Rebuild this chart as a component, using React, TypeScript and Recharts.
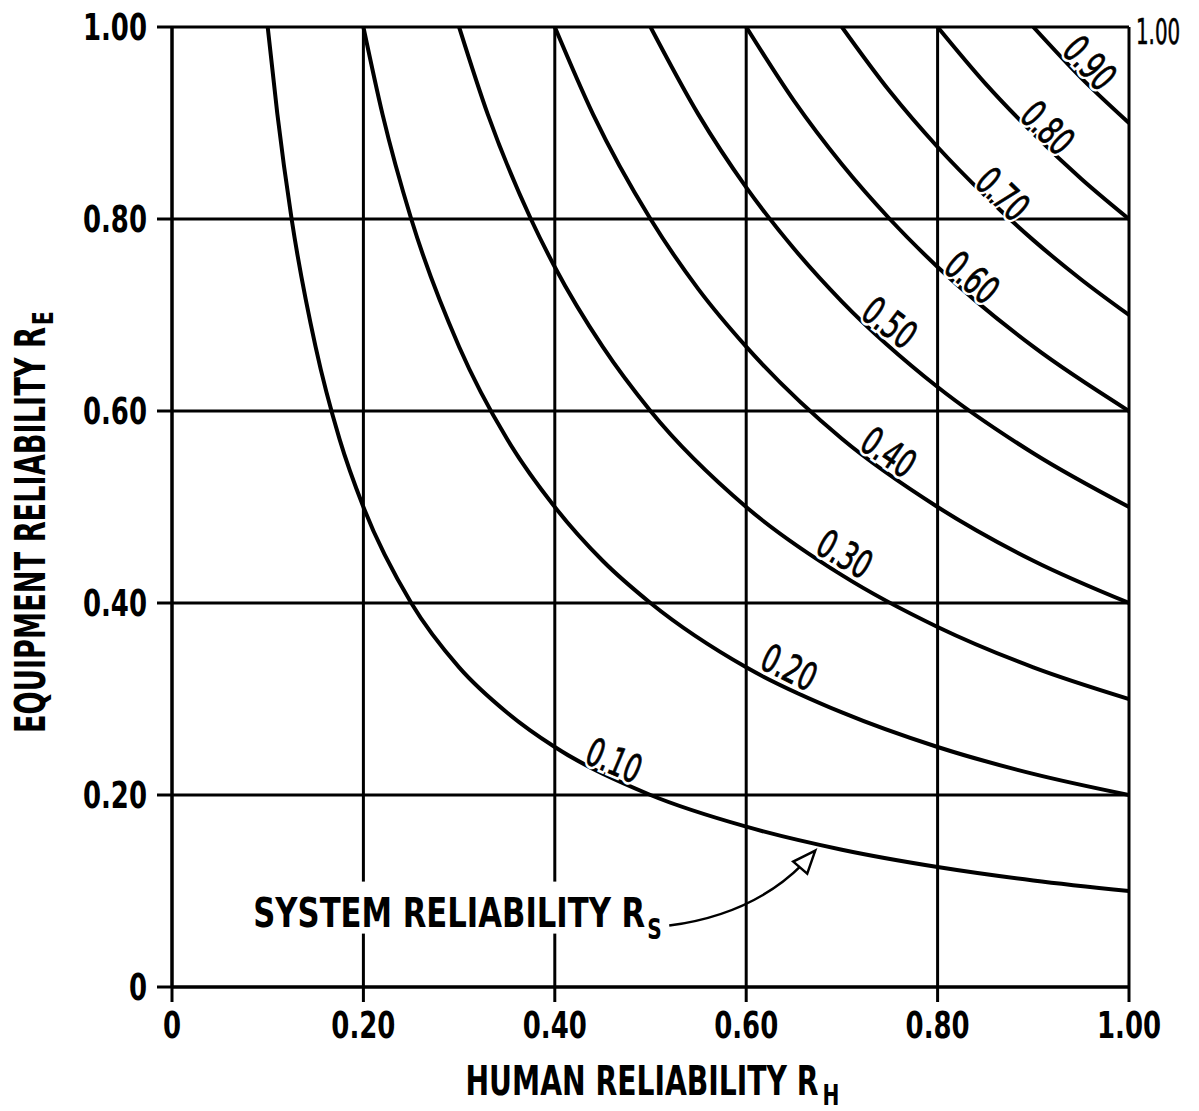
import React from 'react';
import {
  LineChart,
  Line,
  XAxis,
  YAxis,
  CartesianGrid,
  ReferenceDot,
} from 'recharts';

/* ------------------------- data -------------------- */
// each curve: [human reliability RH, equipment reliability RE]
const curve10: [number, number][] = [
  [0.1, 1.0], [0.11, 0.91], [0.125, 0.8], [0.15, 0.667], [0.175, 0.571], [0.2, 0.5],
  [0.25, 0.4], [0.3, 0.333], [0.35, 0.286], [0.4, 0.25], [0.5, 0.2], [0.6, 0.167],
  [0.7, 0.143], [0.8, 0.125], [0.9, 0.111], [1.0, 0.1],
];
const curve20: [number, number][] = [
  [0.2, 1.0], [0.22, 0.909], [0.25, 0.8], [0.3, 0.667], [0.35, 0.571], [0.4, 0.5],
  [0.45, 0.444], [0.5, 0.4], [0.6, 0.333], [0.7, 0.286], [0.8, 0.25], [0.9, 0.222],
  [1.0, 0.2],
];
const curve30: [number, number][] = [
  [0.3, 1.0], [0.33, 0.909], [0.375, 0.8], [0.4, 0.75], [0.45, 0.667], [0.5, 0.6],
  [0.6, 0.5], [0.7, 0.429], [0.8, 0.375], [0.9, 0.333], [1.0, 0.3],
];
const curve40: [number, number][] = [
  [0.4, 1.0], [0.44, 0.909], [0.5, 0.8], [0.55, 0.727], [0.6, 0.667], [0.7, 0.571],
  [0.8, 0.5], [0.9, 0.444], [1.0, 0.4],
];
const curve50: [number, number][] = [
  [0.5, 1.0], [0.55, 0.909], [0.6, 0.833], [0.65, 0.769], [0.7, 0.714], [0.8, 0.625],
  [0.9, 0.556], [1.0, 0.5],
];
const curve60: [number, number][] = [
  [0.6, 1.0], [0.65, 0.923], [0.7, 0.857], [0.75, 0.8], [0.8, 0.75], [0.9, 0.667],
  [1.0, 0.6],
];
const curve70: [number, number][] = [
  [0.7, 1.0], [0.75, 0.933], [0.8, 0.875], [0.85, 0.824], [0.9, 0.778], [0.95, 0.737],
  [1.0, 0.7],
];
const curve80: [number, number][] = [
  [0.8, 1.0], [0.85, 0.941], [0.9, 0.889], [0.95, 0.842], [1.0, 0.8],
];
const curve90: [number, number][] = [
  [0.9, 1.0], [0.95, 0.947], [1.0, 0.9],
];

const curves = [curve10, curve20, curve30, curve40, curve50, curve60, curve70, curve80, curve90];
const curveNames = ['0.10', '0.20', '0.30', '0.40', '0.50', '0.60', '0.70', '0.80', '0.90'];

// where each curve's value is written, and its slant
const tagRH = [0.462, 0.645, 0.703, 0.749, 0.75, 0.836, 0.868, 0.915, 0.959];
const tagRE = [0.236, 0.333, 0.451, 0.557, 0.692, 0.739, 0.826, 0.895, 0.9625];
const tagAngle = [23, 26, 30, 34, 37, 40, 44, 45, 47];

const axisTicks = [0, 0.2, 0.4, 0.6, 0.8, 1.0];

/* ------------------------- helpers -------------------------------------- */
const FONT = '"Liberation Sans Narrow", "DejaVu Sans Condensed", "Arial Narrow", sans-serif';
const tickFmt = (v: number) => (v === 0 ? '0' : v.toFixed(2));
const toRows = (pts: [number, number][]) => pts.map(([rh, re]) => ({ rh, re }));

/* text squeezed horizontally, like the condensed face of the original */
const Narrow = ({ x, y, sx = 0.76, rotate = 0, children, ...rest }: any) => (
  <text
    transform={`translate(${x} ${y}) rotate(${rotate}) scale(${sx} 1)`}
    fontFamily={FONT}
    fill="#000"
    {...rest}
  >
    {children}
  </text>
);

const XTick = ({ x, y, payload }: any) => (
  <Narrow x={x} y={y + 26} textAnchor="middle" fontSize={38} fontWeight={700}>
    {tickFmt(payload.value)}
  </Narrow>
);

const YTick = ({ x, y, payload }: any) => (
  <Narrow x={x} y={y + 13} textAnchor="end" fontSize={38} fontWeight={700}>
    {tickFmt(payload.value)}
  </Narrow>
);

/* value written along a curve: white knock-out first, then the figures */
const CurveTag = ({ cx, cy, text, angle }: any) => (
  <g>
    <Narrow
      x={cx}
      y={cy}
      rotate={angle}
      sx={0.72}
      textAnchor="middle"
      dominantBaseline="central"
      fontSize={39}
      fill="#fff"
      stroke="#fff"
      strokeWidth={6}
    >
      {text}
    </Narrow>
    <Narrow
      x={cx}
      y={cy}
      rotate={angle}
      sx={0.72}
      textAnchor="middle"
      dominantBaseline="central"
      fontSize={39}
      stroke="#000"
      strokeWidth={0.8}
    >
      {text}
    </Narrow>
  </g>
);

/* "SYSTEM RELIABILITY Rs" callout, drawn relative to the arrow tip */
const SystemNote = ({ cx, cy }: any) => (
  <g>
    <rect x={cx - 567} y={cy + 29} width={417} height={52} fill="#fff" />
    <text
      x={cx - 559}
      y={cy + 74}
      fontFamily={FONT}
      fontSize={40}
      fontWeight={700}
      fill="#000"
      textLength={392}
      lengthAdjust="spacingAndGlyphs"
    >
      SYSTEM RELIABILITY R
    </text>
    <Narrow x={cx - 165} y={cy + 86} fontSize={28} fontWeight={700} sx={0.8}>
      S
    </Narrow>
    <path
      d={`M ${cx - 143} ${cy + 73} Q ${cx - 60} ${cy + 62} ${cx - 10} ${cy + 12}`}
      fill="none"
      stroke="#000"
      strokeWidth={2.5}
    />
    <polygon
      points={`${cx + 3},${cy - 2} ${cx - 19},${cy + 9} ${cx - 5},${cy + 21}`}
      fill="#fff"
      stroke="#000"
      strokeWidth={2.5}
    />
  </g>
);

const CornerLabel = ({ cx, cy }: any) => (
  <Narrow x={cx + 7} y={cy + 17} fontSize={35} sx={0.63} stroke="#000" strokeWidth={0.6}>
    1.00
  </Narrow>
);

const XTitle = ({ viewBox }: any) => {
  const cx = viewBox.x + viewBox.width / 2;
  const y = viewBox.y + 108;
  return (
    <g>
      <text
        x={cx - 185}
        y={y}
        fontFamily={FONT}
        fontSize={40}
        fontWeight={700}
        fill="#000"
        textLength={353}
        lengthAdjust="spacingAndGlyphs"
      >
        HUMAN RELIABILITY R
      </text>
      <Narrow x={cx + 172} y={y + 10} fontSize={28} fontWeight={700} sx={0.8}>
        H
      </Narrow>
    </g>
  );
};

const YTitle = ({ viewBox }: any) => {
  const x = viewBox.x - 67;
  const y = viewBox.y + 706;
  return (
    <g transform={`translate(${x} ${y}) rotate(-90)`}>
      <text
        x={0}
        y={0}
        fontFamily={FONT}
        fontSize={42}
        fontWeight={700}
        fill="#000"
        textLength={406}
        lengthAdjust="spacingAndGlyphs"
      >
        EQUIPMENT RELIABILITY R
      </text>
      <Narrow x={408} y={8} fontSize={28} fontWeight={700} sx={0.8}>
        E
      </Narrow>
    </g>
  );
};

/* ------------------------- component ------------------------------------ */
export default function App() {
  return (
    <div style={{ position: 'absolute', left: 0, top: 0, background: '#fff' }}>
      <LineChart
        width={1199}
        height={1111}
        margin={{ top: 27, right: 70, left: 112, bottom: 64 }}
      >
        <CartesianGrid stroke="#000" strokeWidth={3} />

        <XAxis
          dataKey="rh"
          type="number"
          domain={[0, 1]}
          ticks={axisTicks}
          height={60}
          tickSize={15}
          tickMargin={10}
          tick={<XTick />}
          axisLine={{ stroke: '#000', strokeWidth: 3 }}
          tickLine={{ stroke: '#000', strokeWidth: 3 }}
          allowDataOverflow
          label={<XTitle />}
        />

        <YAxis
          dataKey="re"
          type="number"
          domain={[0, 1]}
          ticks={axisTicks}
          width={60}
          tickSize={15}
          tickMargin={10}
          tick={<YTick />}
          axisLine={{ stroke: '#000', strokeWidth: 3 }}
          tickLine={{ stroke: '#000', strokeWidth: 3 }}
          allowDataOverflow
          label={<YTitle />}
        />

        {curves.map((c, i) => (
          <Line
            key={curveNames[i]}
            data={toRows(c)}
            dataKey="re"
            type="monotone"
            stroke="#000"
            strokeWidth={4}
            dot={false}
            activeDot={false}
            isAnimationActive={false}
          />
        ))}

        {curveNames.map((name, i) => (
          <ReferenceDot
            key={`tag-${name}`}
            x={tagRH[i]}
            y={tagRE[i]}
            r={1}
            ifOverflow="visible"
            shape={(p: any) => <CurveTag cx={p.cx} cy={p.cy} text={name} angle={tagAngle[i]} />}
          />
        ))}

        <ReferenceDot
          x={0.669}
          y={0.14}
          r={1}
          ifOverflow="visible"
          shape={(p: any) => <SystemNote cx={p.cx} cy={p.cy} />}
        />

        <ReferenceDot
          x={1}
          y={1}
          r={1}
          ifOverflow="visible"
          shape={(p: any) => <CornerLabel cx={p.cx} cy={p.cy} />}
        />
      </LineChart>
    </div>
  );
}
